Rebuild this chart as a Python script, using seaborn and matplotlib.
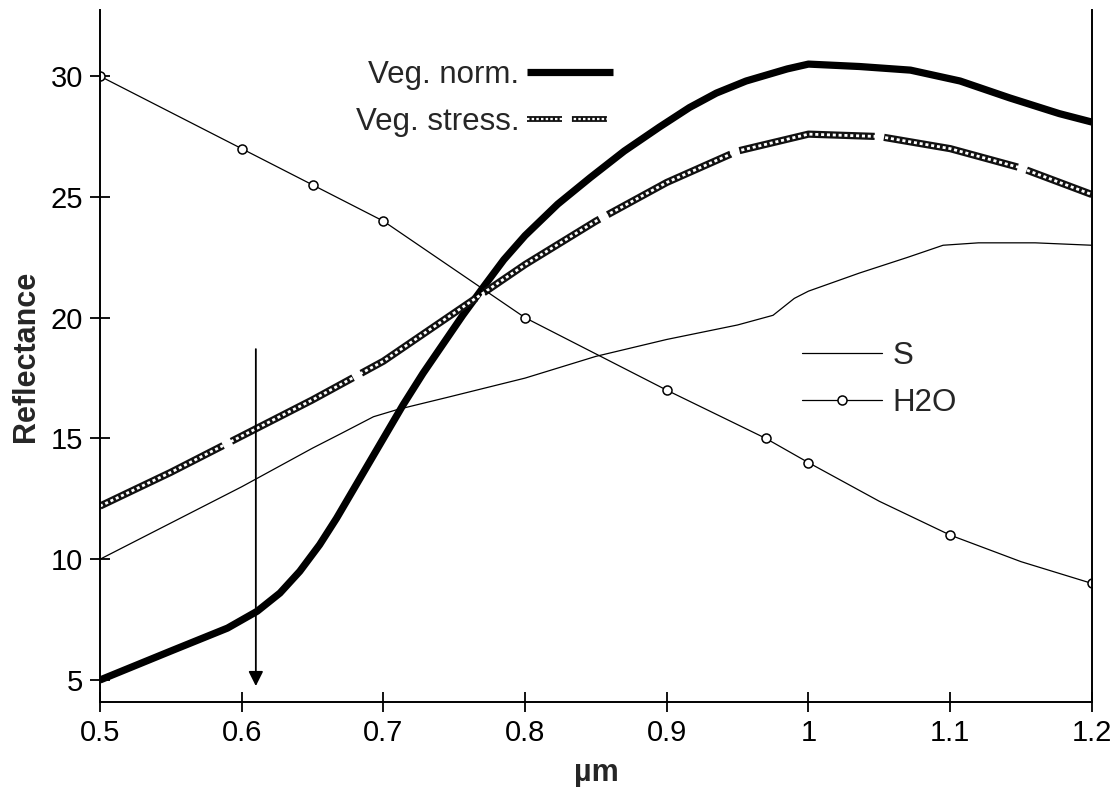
import numpy as np
import pandas as pd
import seaborn as sns
from matplotlib import pyplot as plt
from matplotlib.lines import Line2D
from matplotlib.legend_handler import HandlerTuple

# values
wl_norm = [0.5, 0.55, 0.59, 0.611, 0.627, 0.641, 0.655, 0.667, 0.676, 0.688, 0.7, 0.714,
           0.728, 0.742, 0.756, 0.771, 0.785, 0.8, 0.823, 0.846, 0.87, 0.895, 0.916,
           0.935, 0.956, 0.985, 1.0, 1.036, 1.072, 1.107, 1.142, 1.177, 1.2]
veg_norm = [5.0, 6.2, 7.15, 7.85, 8.6, 9.5, 10.6, 11.7, 12.6, 13.8, 15.0, 16.4,
            17.7, 18.9, 20.1, 21.3, 22.4, 23.4, 24.7, 25.8, 26.9, 27.9, 28.7,
            29.3, 29.8, 30.3, 30.5, 30.4, 30.25, 29.8, 29.1, 28.45, 28.1]

wl_stress = [0.5, 0.55, 0.6, 0.65, 0.7, 0.75, 0.8, 0.85, 0.9, 0.95, 1.0, 1.05, 1.1, 1.15, 1.2]
veg_stress = [12.2, 13.6, 15.1, 16.6, 18.2, 20.2, 22.2, 24.0, 25.6, 26.9, 27.6, 27.5, 27.0, 26.2, 25.1]

wl_s = [0.5, 0.55, 0.6, 0.65, 0.67, 0.693, 0.71, 0.745, 0.8, 0.85, 0.9, 0.95, 0.975, 0.99,
        1.0, 1.036, 1.07, 1.095, 1.12, 1.16, 1.2]
s_vals = [10.0, 11.5, 13.0, 14.6, 15.2, 15.9, 16.2, 16.7, 17.5, 18.4, 19.1, 19.7, 20.1, 20.8,
          21.1, 21.85, 22.5, 23.0, 23.1, 23.1, 23.0]

wl_h2o = [0.5, 0.6, 0.65, 0.7, 0.8, 0.9, 0.97, 1.0, 1.05, 1.1, 1.15, 1.2]
h2o = [30.0, 27.0, 25.5, 24.0, 20.0, 17.0, 15.0, 14.0, 12.4, 11.0, 9.9, 9.0]
h2o_marked = [0, 1, 2, 3, 4, 5, 6, 7, 9, 11]

arrow_x = 0.61
arrow_from = 18.7
arrow_to = 4.75

xticks = [0.5, 0.6, 0.7, 0.8, 0.9, 1.0, 1.1, 1.2]
xticklabels = ['0.5', '0.6', '0.7', '0.8', '0.9', '1', '1.1', '1.2']
yticks = [5, 10, 15, 20, 25, 30]

sns.set_style('white')
plt.rcParams['font.family'] = ['Liberation Sans', 'DejaVu Sans']

fig = plt.figure(figsize=(11.17, 7.87), dpi=100)
ax = fig.add_axes([0.0895, 0.108, 0.888, 0.879])

sns.lineplot(x=wl_norm, y=veg_norm, ax=ax, color='black', linewidth=5.2,
             solid_capstyle='butt', solid_joinstyle='round')
norm_line = ax.lines[-1]

# textured "stress" line: thick dashed dark line with a white dotted core
sns.lineplot(x=wl_stress, y=veg_stress, ax=ax, color='#111111', linewidth=5.2)
ax.lines[-1].set_dashes((19, 1.3))
sns.lineplot(x=wl_stress, y=veg_stress, ax=ax, color='white', linewidth=2.0)
ax.lines[-1].set_dashes((1.1, 1.0))

sns.lineplot(x=wl_s, y=s_vals, ax=ax, color='black', linewidth=0.9)
s_line = ax.lines[-1]

marker_style = dict(marker='o', markersize=6.5, markerfacecolor='white',
                    markeredgecolor='black', markeredgewidth=1.1)
sns.lineplot(x=wl_h2o, y=h2o, ax=ax, color='black', linewidth=0.9,
             markevery=h2o_marked, **marker_style)
h2o_handle = Line2D([], [], color='black', linewidth=0.9, **marker_style)

stress_dark = Line2D([], [], color='#111111', linewidth=4.2, dashes=(6, 1.7))
stress_light = Line2D([], [], color='white', linewidth=1.6, dashes=(1.1, 1.0))

ax.annotate('', xy=(arrow_x, arrow_to), xytext=(arrow_x, arrow_from),
            arrowprops=dict(arrowstyle='-|>', color='black', lw=1.3,
                            mutation_scale=22, shrinkA=0, shrinkB=0))

ax.set_xlim(0.5, 1.2)
ax.set_ylim(4.09, 32.73)
ax.set_xticks(xticks)
ax.set_xticklabels(xticklabels)
ax.set_yticks(yticks)
ax.tick_params(direction='inout', length=14, width=1.3, labelsize=21, pad=5,
               colors='black')
ax.tick_params(axis='y', left=True)
ax.tick_params(axis='x', bottom=True)
for side in ['left', 'bottom', 'right']:
    ax.spines[side].set_visible(True)
    ax.spines[side].set_color('black')
    ax.spines[side].set_linewidth(1.4)
ax.spines['top'].set_visible(False)

ax.set_xlabel('µm', fontsize=22, fontweight='bold', labelpad=8)
ax.set_ylabel('Reflectance', fontsize=22, fontweight='bold', labelpad=7)

leg1 = ax.legend(handles=[norm_line, (stress_dark, stress_light)],
                 labels=['Veg. norm.', 'Veg. stress.'],
                 handler_map={tuple: HandlerTuple(ndivide=1)},
                 markerfirst=False, frameon=False, fontsize=22.5,
                 handlelength=2.75, handletextpad=0.25, labelspacing=0.55,
                 loc='upper left', bbox_to_anchor=(0.258, 0.928),
                 borderpad=0, borderaxespad=0)
ax.add_artist(leg1)

ax.legend(handles=[s_line, h2o_handle], labels=['S', 'H2O'], frameon=False,
          fontsize=22.5, handlelength=2.55, handletextpad=0.35, labelspacing=0.55,
          loc='upper left', bbox_to_anchor=(0.708, 0.522),
          borderpad=0, borderaxespad=0)

plt.savefig('out.png', dpi=100)
